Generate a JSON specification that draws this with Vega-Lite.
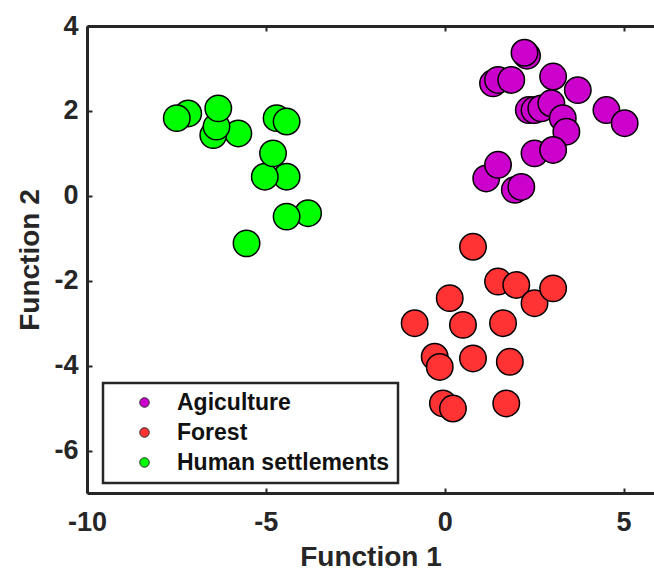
{
  "$schema": "https://vega.github.io/schema/vega-lite/v6.json",
  "autosize": {"type": "none"},
  "padding": {"left": 87, "top": 26, "right": 0, "bottom": 81},
  "width": 567,
  "height": 467,
  "background": "white",
  "config": {
    "font": "Liberation Sans",
    "view": {"stroke": null},
    "legend": {"strokeColor": "#262626", "strokeWidth": 2.5},
    "axis": {
      "domainColor": "#262626",
      "domainWidth": 3,
      "tickColor": "#262626",
      "tickWidth": 2,
      "tickSize": -5,
      "grid": false,
      "labelFont": "Liberation Sans",
      "labelFontWeight": "bold",
      "labelFontSize": 27,
      "labelColor": "#262626",
      "labelFlush": false,
      "labelExpr": "'' + datum.value",
      "titleFont": "Liberation Sans",
      "titleFontWeight": "bold",
      "titleFontSize": 28,
      "titleColor": "#262626"
    }
  },
  "data": {
    "values": [
      {"f1": 2.30, "f2": 3.30, "class": "Agiculture"},
      {"f1": 2.23, "f2": 3.37, "class": "Agiculture"},
      {"f1": 1.35, "f2": 2.65, "class": "Agiculture"},
      {"f1": 1.49, "f2": 2.73, "class": "Agiculture"},
      {"f1": 1.86, "f2": 2.73, "class": "Agiculture"},
      {"f1": 3.03, "f2": 2.81, "class": "Agiculture"},
      {"f1": 3.72, "f2": 2.49, "class": "Agiculture"},
      {"f1": 4.52, "f2": 2.02, "class": "Agiculture"},
      {"f1": 5.03, "f2": 1.71, "class": "Agiculture"},
      {"f1": 2.35, "f2": 2.02, "class": "Agiculture"},
      {"f1": 2.51, "f2": 2.02, "class": "Agiculture"},
      {"f1": 2.70, "f2": 2.06, "class": "Agiculture"},
      {"f1": 2.98, "f2": 2.18, "class": "Agiculture"},
      {"f1": 3.30, "f2": 1.83, "class": "Agiculture"},
      {"f1": 3.40, "f2": 1.51, "class": "Agiculture"},
      {"f1": 2.51, "f2": 1.00, "class": "Agiculture"},
      {"f1": 3.03, "f2": 1.08, "class": "Agiculture"},
      {"f1": 1.16, "f2": 0.41, "class": "Agiculture"},
      {"f1": 1.49, "f2": 0.73, "class": "Agiculture"},
      {"f1": 1.96, "f2": 0.14, "class": "Agiculture"},
      {"f1": 2.14, "f2": 0.21, "class": "Agiculture"},
      {"f1": 0.79, "f2": -1.20, "class": "Forest"},
      {"f1": 1.49, "f2": -2.02, "class": "Forest"},
      {"f1": 2.00, "f2": -2.10, "class": "Forest"},
      {"f1": 2.51, "f2": -2.53, "class": "Forest"},
      {"f1": 3.03, "f2": -2.18, "class": "Forest"},
      {"f1": 0.14, "f2": -2.41, "class": "Forest"},
      {"f1": -0.84, "f2": -3.00, "class": "Forest"},
      {"f1": 0.51, "f2": -3.04, "class": "Forest"},
      {"f1": 1.63, "f2": -3.00, "class": "Forest"},
      {"f1": -0.28, "f2": -3.79, "class": "Forest"},
      {"f1": -0.14, "f2": -4.03, "class": "Forest"},
      {"f1": 0.79, "f2": -3.83, "class": "Forest"},
      {"f1": 1.82, "f2": -3.91, "class": "Forest"},
      {"f1": -0.05, "f2": -4.89, "class": "Forest"},
      {"f1": 0.23, "f2": -5.01, "class": "Forest"},
      {"f1": 1.72, "f2": -4.89, "class": "Forest"},
      {"f1": -7.17, "f2": 1.94, "class": "Human settlements"},
      {"f1": -7.49, "f2": 1.83, "class": "Human settlements"},
      {"f1": -5.77, "f2": 1.47, "class": "Human settlements"},
      {"f1": -6.47, "f2": 1.43, "class": "Human settlements"},
      {"f1": -6.38, "f2": 1.63, "class": "Human settlements"},
      {"f1": -6.33, "f2": 2.06, "class": "Human settlements"},
      {"f1": -4.70, "f2": 1.83, "class": "Human settlements"},
      {"f1": -4.42, "f2": 1.75, "class": "Human settlements"},
      {"f1": -4.42, "f2": 0.45, "class": "Human settlements"},
      {"f1": -5.03, "f2": 0.45, "class": "Human settlements"},
      {"f1": -4.80, "f2": 1.00, "class": "Human settlements"},
      {"f1": -3.82, "f2": -0.41, "class": "Human settlements"},
      {"f1": -4.42, "f2": -0.49, "class": "Human settlements"},
      {"f1": -5.54, "f2": -1.12, "class": "Human settlements"}
    ]
  },
  "encoding": {
    "y": {
      "field": "f2",
      "type": "quantitative",
      "scale": {"domain": [-7, 4], "nice": false, "zero": false},
      "axis": {"title": "Function 2", "values": [-6, -4, -2, 0, 2, 4], "labelPadding": 14, "titlePadding": 9}
    }
  },
  "layer": [
    {
      "mark": {"type": "point", "filled": true, "opacity": 1, "stroke": "black", "strokeWidth": 1.5, "size": 700, "shape": "circle"},
      "encoding": {
        "x": {
          "field": "f1",
          "type": "quantitative",
          "scale": {"domain": [-10, 5.85], "nice": false, "zero": false},
          "axis": {"title": "Function 1", "values": [-10, -5, 0, 5], "labelPadding": 21, "titlePadding": 8}
        },
        "color": {
          "field": "class",
          "type": "nominal",
          "scale": {"domain": ["Agiculture", "Forest", "Human settlements"], "range": ["#cc00cc", "#ff3333", "#00ff00"]},
          "legend": {
            "title": null,
            "orient": "none",
            "legendX": 16,
            "legendY": 357,
            "padding": 8,
            "strokeColor": "#262626",
            "fillColor": "white",
            "symbolType": "circle",
            "symbolSize": 90,
            "symbolStrokeColor": "#262626",
            "symbolStrokeWidth": 1,
            "symbolOpacity": 1,
            "symbolOffset": 22,
            "labelOffset": 21,
            "labelLimit": 400,
            "labelFont": "Liberation Sans",
            "labelFontWeight": "bold",
            "labelFontSize": 23,
            "labelColor": "#111111",
            "rowPadding": 6
          }
        }
      }
    },
    {
      "mark": {"type": "point", "opacity": 0},
      "encoding": {
        "x": {
          "field": "f1",
          "type": "quantitative",
          "scale": {"domain": [-10, 5.85], "nice": false, "zero": false},
          "axis": {"orient": "top", "title": null, "labels": false, "values": [-10, -5, 0, 5]}
        }
      }
    }
  ],
  "resolve": {"axis": {"x": "independent"}}
}
